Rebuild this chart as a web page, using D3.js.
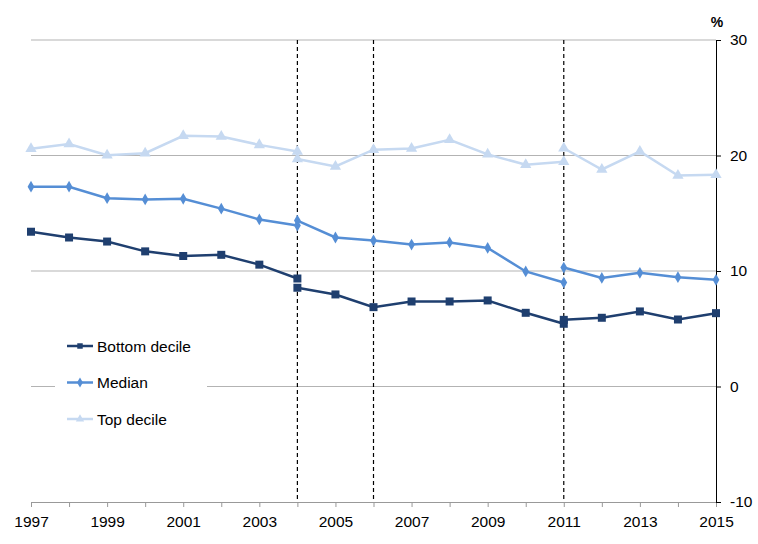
<!DOCTYPE html>
<html>
<head>
<meta charset="utf-8">
<script src="https://cdn.jsdelivr.net/npm/d3@7"></script>
<style>
  body { margin: 0; background: #fff; }
  svg text { font-family: "Liberation Sans", Arial, sans-serif; }
</style>
</head>
<body>
<div id="chart"></div>
<script>
// data; the series break at 2004 and 2011
var seg1Years = [1997, 1998, 1999, 2000, 2001, 2002, 2003, 2004];
var seg2Years = [2004, 2005, 2006, 2007, 2008, 2009, 2010, 2011];
var seg3Years = [2011, 2012, 2013, 2014, 2015];

var bottom1 = [13.4, 12.9, 12.55, 11.7, 11.3, 11.4, 10.55, 9.35];
var bottom2 = [8.55, 7.97, 6.87, 7.36, 7.36, 7.45, 6.38, 5.43];
var bottom3 = [5.77, 5.95, 6.5, 5.8, 6.35];

var median1 = [17.3, 17.3, 16.3, 16.2, 16.25, 15.4, 14.46, 13.94];
var median2 = [14.37, 12.9, 12.64, 12.29, 12.47, 12.0, 9.96, 9.0];
var median3 = [10.3, 9.4, 9.84, 9.46, 9.24];

var top1 = [20.58, 21.0, 20.03, 20.2, 21.7, 21.65, 20.92, 20.35];
var top2 = [19.7, 19.05, 20.5, 20.6, 21.36, 20.1, 19.2, 19.45];
var top3 = [20.63, 18.79, 20.35, 18.27, 18.33];

var seriesNames = ["Bottom decile", "Median", "Top decile"];
var breakYears = [2004, 2006, 2011];
var yTicks = [-10, 0, 10, 20, 30];
var xLabelYears = [1997, 1999, 2001, 2003, 2005, 2007, 2009, 2011, 2013, 2015];

var svgWidth = 758, svgHeight = 544;
var svg = d3.select("#chart").append("svg")
  .attr("width", svgWidth)
  .attr("height", svgHeight);

var x = d3.scaleLinear().domain([1997, 2015]).range([31, 716]);
var y = d3.scaleLinear().domain([-10, 30]).range([502, 40]);

// gridlines
svg.append("g").selectAll("line")
  .data(yTicks.filter(d => d > -10))
  .enter().append("line")
  .attr("x1", x(1997)).attr("x2", x(2015))
  .attr("y1", d => y(d)).attr("y2", d => y(d))
  .attr("stroke", "#b3b3b3").attr("stroke-width", 1);

// x axis
var xAxis = svg.append("g")
  .attr("transform", `translate(0, ${y(-10)})`)
  .call(d3.axisBottom(x)
    .tickValues(d3.range(1997, 2016))
    .tickSize(5)
    .tickSizeOuter(0)
    .tickFormat(d => xLabelYears.includes(d) ? String(d) : ""));
xAxis.select(".domain").attr("stroke", "#999");
xAxis.selectAll(".tick line").attr("stroke", "#999");
xAxis.selectAll(".tick text")
  .attr("dy", "0")
  .attr("y", 25)
  .attr("fill", "#000")
  .style("font-size", "15.5px");

// y axis on the right
var yAxis = svg.append("g")
  .attr("transform", `translate(${x(2015)}, 0)`)
  .call(d3.axisRight(y).tickValues(yTicks).tickSize(5).tickSizeOuter(0).tickPadding(9)
    .tickFormat(d => String(d)));
yAxis.select(".domain").attr("stroke", "#000");
yAxis.selectAll(".tick line").attr("stroke", "#000");
yAxis.selectAll(".tick text").attr("fill", "#000").style("font-size", "15.5px");

svg.append("text")
  .attr("x", 717).attr("y", 27)
  .attr("text-anchor", "middle")
  .style("font-size", "14px").style("font-weight", "bold")
  .text("%");

// dashed break lines
svg.append("g").selectAll("line")
  .data(breakYears)
  .enter().append("line")
  .attr("x1", d => x(d)).attr("x2", d => x(d))
  .attr("y1", y(30)).attr("y2", y(-10))
  .attr("stroke", "#000").attr("stroke-width", 1.2)
  .attr("stroke-dasharray", "4,3");

var series = [
  { name: seriesNames[2], color: "#c6d9f1", marker: "triangle", segs: [top1, top2, top3] },
  { name: seriesNames[1], color: "#558ed5", marker: "diamond", segs: [median1, median2, median3] },
  { name: seriesNames[0], color: "#1f3f6f", marker: "square", segs: [bottom1, bottom2, bottom3] }
];
var segYears = [seg1Years, seg2Years, seg3Years];

var line = d3.line().x(d => x(d[0])).y(d => y(d[1]));

function symbolType(type) {
  if (type === "square") return d3.symbolSquare;
  if (type === "diamond") return d3.symbolDiamond;
  return d3.symbolTriangle;
}
var markerSize = { square: 64, diamond: 40, triangle: 55 };

series.forEach(function(s) {
  var g = svg.append("g");
  s.segs.forEach(function(vals, i) {
    var pts = vals.map((v, j) => [segYears[i][j], v]);
    g.append("path")
      .attr("d", line(pts))
      .attr("fill", "none")
      .attr("stroke", s.color)
      .attr("stroke-width", 2.5);
    g.selectAll(null)
      .data(pts)
      .enter().append("path")
      .attr("d", d3.symbol().type(symbolType(s.marker)).size(markerSize[s.marker])())
      .attr("transform", d => `translate(${x(d[0])}, ${y(d[1])})`)
      .attr("fill", s.color);
  });
});

// legend
var legend = svg.append("g");
legend.append("rect")
  .attr("x", 55).attr("y", 330).attr("width", 152).attr("height", 105)
  .attr("fill", "#fff");
var legendItems = [series[2], series[1], series[0]];
legendItems.forEach(function(s, i) {
  var ly = 346 + i * 36.5;
  legend.append("line")
    .attr("x1", 67).attr("x2", 93).attr("y1", ly).attr("y2", ly)
    .attr("stroke", s.color).attr("stroke-width", 2.5);
  legend.append("path")
    .attr("d", d3.symbol().type(symbolType(s.marker)).size(30)())
    .attr("transform", `translate(80, ${ly})`)
    .attr("fill", s.color);
  legend.append("text")
    .attr("x", 97).attr("y", ly + 5.5)
    .style("font-size", "15.5px")
    .attr("fill", "#000")
    .text(s.name);
});
</script>
</body>
</html>
